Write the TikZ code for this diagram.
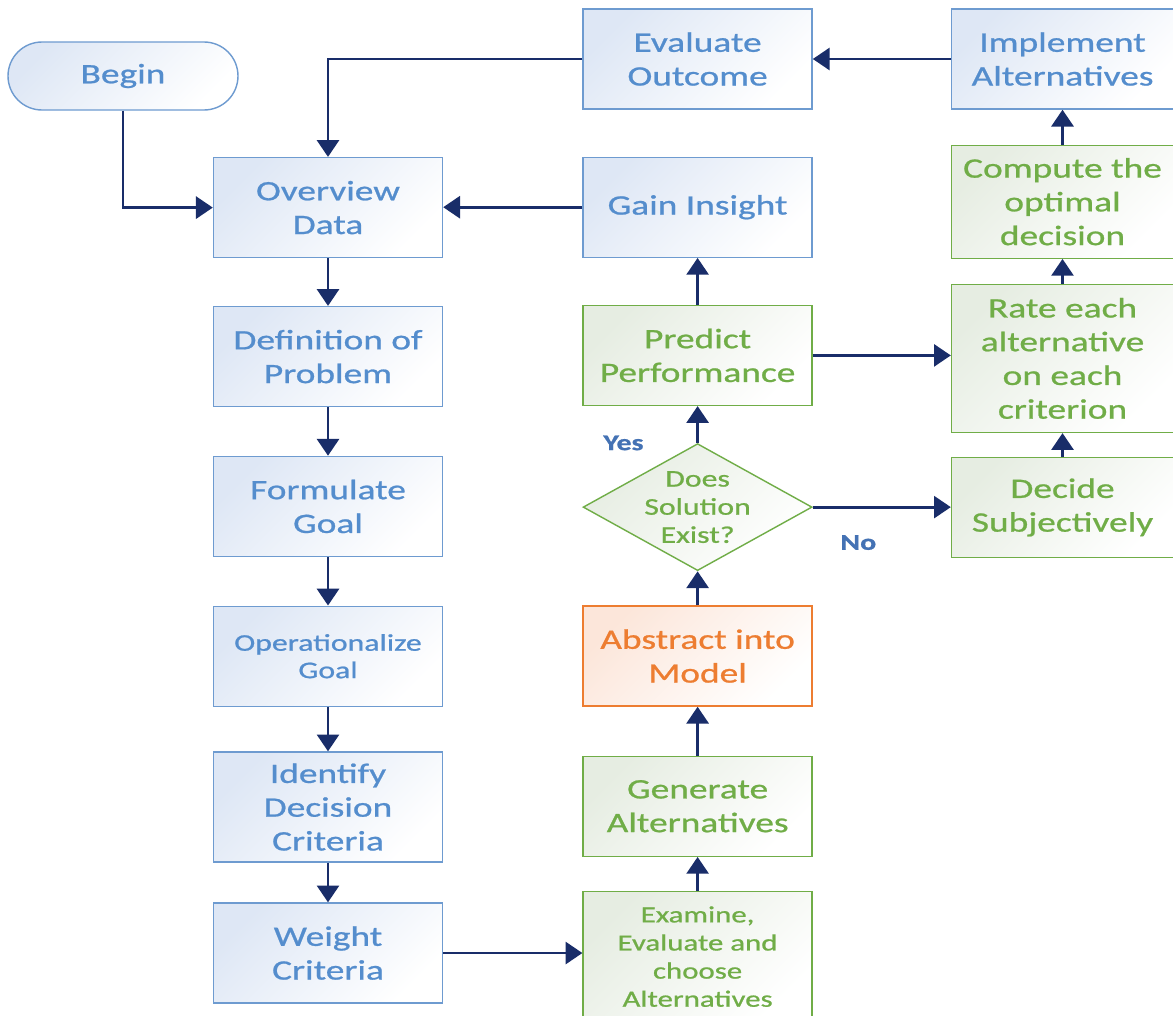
\documentclass[tikz,border=0pt]{standalone}
\usepackage{fontspec}
\setmainfont{Carlito}[FakeStretch=1.33, FakeBold=0.8]
\usepackage{xcolor}
\usepackage{tikz}
\usetikzlibrary{arrows.meta, shapes.geometric, positioning}
\definecolor{skytext}{RGB}{84,141,205}
\definecolor{skyline}{RGB}{110,155,208}
\definecolor{skyfill}{RGB}{222,231,245}
\definecolor{leaf}{RGB}{112,173,71}
\definecolor{leaffill}{RGB}{230,237,226}
\definecolor{ember}{RGB}{237,125,49}
\definecolor{emberfill}{RGB}{252,230,218}
\definecolor{navy}{RGB}{25,45,105}
\definecolor{tagblue}{RGB}{68,114,180}

\begin{document}
\begin{tikzpicture}[
    font=\fontsize{20}{24}\selectfont,
    tint/.style={top color=#1, bottom color=white, shading angle=45},
    box/.style={rectangle, draw=skyline, line width=1pt, tint=skyfill,
                text=skytext, minimum width=5.725cm, minimum height=2.5cm,
                inner sep=2pt, text centered, align=center},
    gbox/.style={box, draw=leaf, tint=leaffill, text=leaf},
    obox/.style={box, draw=ember, tint=emberfill, text=ember},
    rbox/.style={gbox, minimum width=5.55cm},
    pill/.style={box, rounded corners=0.85cm, minimum width=5.75cm, minimum height=1.7cm},
    ask/.style={diamond, aspect=1.8, draw=leaf, line width=1pt, tint=leaffill, text=leaf,
                minimum width=5.725cm, minimum height=3.175cm, inner ysep=0pt,
                inner xsep=-0.35cm, align=center, font=\fontsize{17}{20}\selectfont},
    tag/.style={text=tagblue, font=\fontsize{16}{19}\selectfont\bfseries},
    arr/.style={-{Triangle[length=0.42cm, width=0.55cm]}, line width=2pt, draw=navy}
  ]
    \fill[white] (0,0) rectangle (29.325,-25.4);
    \useasboundingbox (0,0) rectangle (29.325,-25.4);

    % Left column
    \node[pill] (begin) at (3.075,-1.9) {Begin};
    \node[box] (over) at (8.2,-5.19) {Overview\\Data};
    \node[box, below=1.19cm of over] (defn) {Definition of\\Problem};
    \node[box, below=1.21cm of defn] (goal) {Formulate\\Goal};
    \node[box, below=1.21cm of goal, font=\fontsize{17}{19.5}\selectfont] (oper) {Operationalize\\Goal};
    \node[box, below=1.11cm of oper, minimum height=2.75cm] (crit) {Identify\\Decision\\Criteria};
    \node[box, below=0.99cm of crit] (weight) {Weight\\Criteria};

    \draw[arr] (begin) |- (over);
    \draw[arr] (over) -- (defn);
    \draw[arr] (defn) -- (goal);
    \draw[arr] (goal) -- (oper);
    \draw[arr] (oper) -- (crit);
    \draw[arr] (crit) -- (weight);

    % Middle column
    \node[box] (eval) at (17.44,-1.475) {Evaluate\\Outcome};
    \node[box, below=1.17cm of eval] (insight) {Gain Insight};
    \node[gbox, below=1.17cm of insight] (pred) {Predict\\Performance};
    \node[ask, below=0.92cm of pred] (exist) {Does\\Solution\\Exist?};
    \node[obox, below=0.85cm of exist] (abstr) {Abstract into\\Model};
    \node[gbox, below=1.22cm of abstr] (gen) {Generate\\Alternatives};
    \node[gbox, below=0.85cm of gen, minimum height=3.25cm,
          font=\fontsize{16.5}{20}\selectfont] (exam) {Examine,\\Evaluate and\\choose\\Alternatives};

    \draw[arr] (weight.east) -- (weight.east -| exam.west);
    \draw[arr] (exam) -- (gen);
    \draw[arr] (gen) -- (abstr);
    \draw[arr] (abstr) -- (exist);
    \draw[arr] (exist) -- node[tag, at start, left=1.2cm] {Yes} (pred);
    \draw[arr] (pred) -- (insight);
    \draw[arr] (insight.west) -- (insight.west -| over.east);
    \draw[arr] (eval) -| (over);

    % Right column
    \node[box, minimum width=5.55cm, right=3.45cm of eval] (impl) {Implement\\Alternatives};
    \node[rbox, below=0.87cm of impl, minimum height=2.825cm] (comp) {Compute the\\optimal\\decision};
    \node[rbox, below=0.62cm of comp, minimum height=3.7cm] (rate) {Rate each\\alternative\\on each\\criterion};
    \node[rbox, below=0.59cm of rate] (decide) {Decide\\Subjectively};

    \draw[arr] (pred.east) -- (pred.east -| rate.west);
    \draw[arr] (exist.east) -- node[tag, pos=0.33, below=0.55cm] {No} (exist.east -| decide.west);
    \draw[arr] (decide) -- (rate);
    \draw[arr] (rate) -- (comp);
    \draw[arr] (comp) -- (impl);
    \draw[arr] (impl) -- (eval);
  \end{tikzpicture}
\end{document}
